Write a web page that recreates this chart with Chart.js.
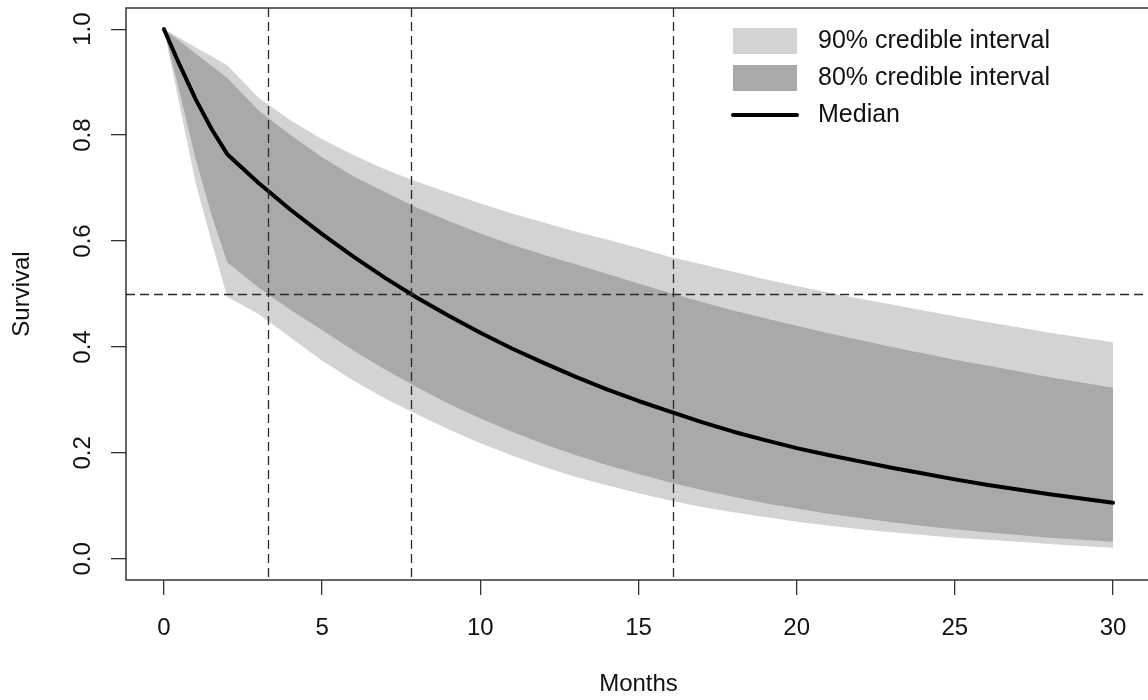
<!DOCTYPE html>
<html>
<head>
<meta charset="utf-8">
<script src="https://cdn.jsdelivr.net/npm/chart.js@4.4.1/dist/chart.umd.min.js"></script>
<style>
  html, body { margin: 0; padding: 0; background: #fff; overflow: hidden; }
  #wrap { width: 1160px; height: 700px; position: relative; }
</style>
</head>
<body>
<div id="wrap"><canvas id="survChart"></canvas></div>
<script>
  /* ── Data ── */
  const months = [0, 0.5, 1, 1.5, 2, 3, 4, 5, 6, 7, 8, 9, 10, 11, 12, 13, 14, 15, 16, 17, 18, 19, 20, 21, 22, 23, 24, 25, 26, 27, 28, 29, 30];
  const median = [1.000, 0.932, 0.868, 0.812, 0.764, 0.709, 0.659, 0.613, 0.570, 0.530, 0.493, 0.459, 0.427, 0.397, 0.370, 0.344, 0.320, 0.298, 0.278, 0.258, 0.240, 0.224, 0.209, 0.196, 0.184, 0.172, 0.161, 0.150, 0.140, 0.131, 0.122, 0.114, 0.106];
  const upper90 = [1.000, 0.983, 0.966, 0.949, 0.932, 0.870, 0.828, 0.792, 0.762, 0.735, 0.712, 0.691, 0.671, 0.652, 0.635, 0.618, 0.603, 0.587, 0.570, 0.556, 0.542, 0.528, 0.515, 0.503, 0.491, 0.480, 0.469, 0.458, 0.447, 0.437, 0.427, 0.418, 0.409];
  const lower90 = [1.000, 0.855, 0.710, 0.600, 0.495, 0.462, 0.418, 0.374, 0.336, 0.302, 0.273, 0.244, 0.218, 0.195, 0.174, 0.155, 0.139, 0.124, 0.110, 0.098, 0.088, 0.079, 0.070, 0.063, 0.056, 0.050, 0.045, 0.040, 0.036, 0.032, 0.028, 0.024, 0.021];
  const upper80 = [1.000, 0.977, 0.954, 0.931, 0.908, 0.846, 0.800, 0.758, 0.722, 0.692, 0.663, 0.638, 0.614, 0.593, 0.574, 0.556, 0.538, 0.520, 0.502, 0.485, 0.469, 0.454, 0.440, 0.426, 0.413, 0.400, 0.388, 0.376, 0.365, 0.354, 0.343, 0.333, 0.323];
  const lower80 = [1.000, 0.880, 0.755, 0.650, 0.560, 0.512, 0.470, 0.432, 0.393, 0.357, 0.324, 0.293, 0.265, 0.240, 0.217, 0.196, 0.177, 0.160, 0.144, 0.130, 0.117, 0.105, 0.095, 0.085, 0.077, 0.069, 0.062, 0.056, 0.050, 0.045, 0.040, 0.036, 0.032];

  const refMonths = [3.29, 7.81, 16.09];
  const refSurvival = [0.5];

  const xTicks = [0, 5, 10, 15, 20, 25, 30];
  const yTicks = [0, 0.2, 0.4, 0.6, 0.8, 1.0];

  const legendLabels = ['90% credible interval', '80% credible interval', 'Median'];

  /* ── Helpers ── */
  const LIGHT = '#d3d3d3', DARK = '#a9a9a9', INK = '#111';
  const pts = arr => months.map((m, i) => ({ x: m, y: arr[i] }));
  function band(arr, color, fill, order) {
    return { data: pts(arr), backgroundColor: color, borderColor: 'transparent', borderWidth: 0,
             pointRadius: 0, tension: 0, fill: fill, order: order };
  }
  // keep rotated / edge labels from pushing the plot area around
  function noPad(s) { s.paddingTop = 0; s.paddingBottom = 0; s.paddingLeft = 0; s.paddingRight = 0; }

  Chart.defaults.font.family = '"Liberation Sans", Arial, sans-serif';
  Chart.defaults.font.size = 24;
  Chart.defaults.color = INK;

  /* ── Reference lines + frame ── */
  const framePlugin = {
    id: 'frame',
    afterDatasetsDraw(chart) {
      const { ctx, chartArea: a, scales: { x, y } } = chart;
      ctx.save();
      ctx.strokeStyle = '#2a2a2a';
      ctx.lineWidth = 1.3;
      ctx.setLineDash([9, 5]);
      refMonths.forEach(m => {
        const px = Math.round(x.getPixelForValue(m)) + 0.5;
        ctx.beginPath(); ctx.moveTo(px, a.top); ctx.lineTo(px, a.bottom); ctx.stroke();
      });
      refSurvival.forEach(s => {
        const py = Math.round(y.getPixelForValue(s)) + 0.5;
        ctx.beginPath(); ctx.moveTo(a.left, py); ctx.lineTo(a.right, py); ctx.stroke();
      });
      ctx.setLineDash([]);
      ctx.strokeStyle = '#333';
      ctx.lineWidth = 1.5;
      ctx.strokeRect(a.left, a.top, a.right - a.left, a.bottom - a.top);
      ctx.restore();
    }
  };

  /* ── Legend (top right, inside plot) ── */
  const legendPlugin = {
    id: 'cornerLegend',
    afterDraw(chart) {
      const ctx = chart.ctx;
      const bx = 733, bw = 64, bh = 26, tx = 818;
      const rows = [41, 78, 115];
      ctx.save();
      ctx.font = '25px "Liberation Sans", Arial, sans-serif';
      ctx.textBaseline = 'middle';
      ctx.fillStyle = LIGHT; ctx.fillRect(bx, rows[0] - bh / 2, bw, bh);
      ctx.fillStyle = DARK;  ctx.fillRect(bx, rows[1] - bh / 2, bw, bh);
      ctx.strokeStyle = '#000'; ctx.lineWidth = 4; ctx.lineCap = 'round';
      ctx.beginPath(); ctx.moveTo(bx, rows[2]); ctx.lineTo(bx + bw, rows[2]); ctx.stroke();
      ctx.fillStyle = INK;
      legendLabels.forEach((t, i) => ctx.fillText(t, tx, rows[i]));
      ctx.restore();
    }
  };

  new Chart(document.getElementById('survChart'), {
    type: 'line',
    data: {
      datasets: [
        band(upper90, LIGHT, '+1', 5),
        band(lower90, LIGHT, false, 6),
        band(upper80, DARK, '+1', 3),
        band(lower80, DARK, false, 4),
        { data: pts(median), borderColor: '#000', borderWidth: 4, pointRadius: 0, tension: 0,
          fill: false, borderCapStyle: 'round', borderJoinStyle: 'round', order: 1 }
      ]
    },
    options: {
      responsive: true, maintainAspectRatio: false, animation: false, devicePixelRatio: 1,
      layout: { padding: { left: 0, top: 8, right: 9, bottom: 0 } },
      plugins: { legend: { display: false }, tooltip: { enabled: false } },
      scales: {
        x: {
          type: 'linear', min: -1.2, max: 31.2,
          afterBuildTicks: s => { s.ticks = xTicks.map(v => ({ value: v })); },
          afterFit: s => { s.height = 120; noPad(s); },
          ticks: { autoSkip: false, maxRotation: 0, padding: 19, callback: v => String(v) },
          grid: { drawOnChartArea: false, tickLength: 15, color: '#333', lineWidth: 1.3 },
          border: { display: false },
          title: { display: true, text: 'Months', padding: { top: 0, bottom: 1 } }
        },
        y: {
          type: 'linear', min: -0.04, max: 1.04,
          afterBuildTicks: s => { s.ticks = yTicks.map(v => ({ value: v })); },
          afterFit: s => { s.width = 126; noPad(s); },
          ticks: { autoSkip: false, minRotation: 90, maxRotation: 90, crossAlign: 'center', padding: 11,
                   callback: v => v.toFixed(1) },
          grid: { drawOnChartArea: false, tickLength: 15, color: '#333', lineWidth: 1.3 },
          border: { display: false },
          title: { display: true, text: 'Survival', padding: { top: 8, bottom: 0 } }
        }
      }
    },
    plugins: [framePlugin, legendPlugin]
  });
</script>
</body>
</html>
